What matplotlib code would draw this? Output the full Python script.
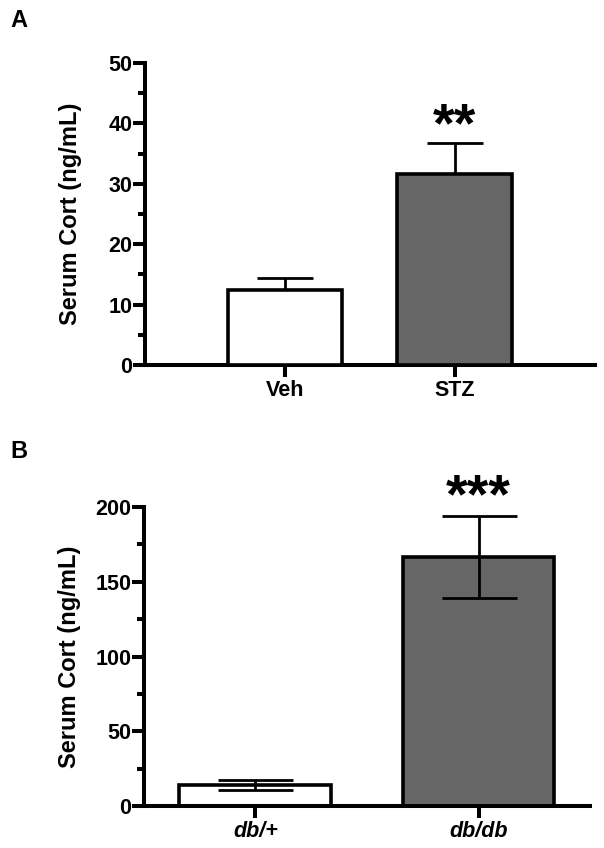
import numpy as np
import matplotlib
matplotlib.use("Agg")
import matplotlib.pyplot as plt
from matplotlib.ticker import MultipleLocator

plt.rcParams['font.family'] = ['Liberation Sans', 'DejaVu Sans']
plt.rcParams['font.weight'] = 'bold'

# panel A data
groups_a = ['Veh', 'STZ']
means_a = [12.4, 31.6]
sem_a = [2.0, 5.2]
stars_a = '**'

# panel B data
groups_b = ['db/+', 'db/db']
means_b = [13.8, 166.8]
sem_b = [3.3, 27.5]
stars_b = '***'

colors = ['white', '#666666']

fig = plt.figure(figsize=(6.04, 8.48), dpi=100)
ax1 = fig.add_axes([0.240, 0.5696, 0.745, 0.3561])
ax2 = fig.add_axes([0.238, 0.0495, 0.739, 0.3526])


def style_axis(ax):
    for s in ['top', 'right']:
        ax.spines[s].set_visible(False)
    for s in ['left', 'bottom']:
        ax.spines[s].set_linewidth(2.9)
    ax.tick_params(axis='y', which='major', length=8.5, width=2.9, labelsize=15.5, pad=0.5)
    ax.tick_params(axis='y', which='minor', length=5, width=2.9)
    ax.tick_params(axis='x', which='major', length=8.5, width=2.9, labelsize=15.5, pad=2)
    ax.set_ylabel('Serum Cort (ng/mL)', fontsize=17, fontweight='bold')
    ax.yaxis.set_label_coords(-0.14, 0.5)
    for lab in ax.get_yticklabels() + ax.get_xticklabels():
        lab.set_fontweight('bold')


# Panel A: upper error bars only
x = np.arange(len(groups_a))
ax1.bar(x, means_a, width=0.675, color=colors, edgecolor='black', linewidth=2.6, zorder=3)
ax1.errorbar(x, means_a, yerr=[np.zeros(2), sem_a], fmt='none', ecolor='black',
             elinewidth=2, capsize=20.5, capthick=2, zorder=2)
ax1.set_xlim(-0.83, 1.83)
ax1.set_ylim(0, 50)
ax1.yaxis.set_major_locator(MultipleLocator(10))
ax1.yaxis.set_minor_locator(MultipleLocator(5))
ax1.set_xticks(x)
ax1.set_xticklabels(groups_a)
style_axis(ax1)
ax1.text(1, means_a[1] + sem_a[1] + 0.2, stars_a, ha='center', va='baseline', fontsize=40, fontweight='bold')

# Panel B: symmetric error bars
x = np.arange(len(groups_b))
ax2.bar(x, means_b, width=0.68, color=colors, edgecolor='black', linewidth=2.6, zorder=2)
ax2.errorbar(x, means_b, yerr=sem_b, fmt='none', ecolor='black',
             elinewidth=2, capsize=27, capthick=2, zorder=3)
ax2.set_xlim(-0.5, 1.5)
ax2.set_ylim(0, 200)
ax2.yaxis.set_major_locator(MultipleLocator(50))
ax2.yaxis.set_minor_locator(MultipleLocator(25))
ax2.set_xticks(x)
ax2.set_xticklabels(groups_b)
style_axis(ax2)
for lab in ax2.get_xticklabels():
    lab.set_fontstyle('italic')
ax2.text(1, means_b[1] + sem_b[1] + 2.0, stars_b, ha='center', va='baseline', fontsize=40, fontweight='bold')

fig.text(0.017, 0.968, 'A', fontsize=17, fontweight='bold', va='baseline')
fig.text(0.017, 0.460, 'B', fontsize=17, fontweight='bold', va='baseline')

fig.savefig('out.png', dpi=100)
